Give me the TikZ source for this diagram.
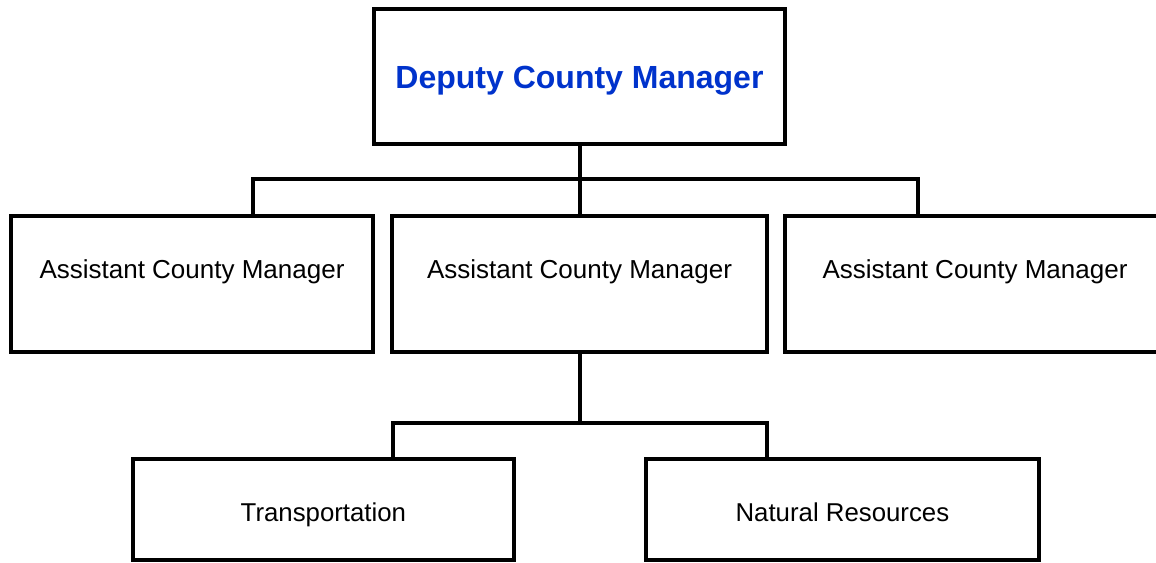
\documentclass[tikz,border=0pt]{standalone}
\usepackage{fontspec}
\setmainfont{Liberation Sans}
\definecolor{dcmblue}{RGB}{0,51,204}
\begin{document}
\begin{tikzpicture}[x=1pt,y=-1pt,
  box/.style={draw=black,line width=4pt,rectangle,inner sep=0pt,fill=white},
  wire/.style={draw=black,line width=4pt,line join=miter},
  asst/.style={box,minimum width=#1,minimum height=135.8pt,font=\fontsize{26}{30}\selectfont,text height=0pt,text depth=12pt},
  unit/.style={box,minimum width=#1,minimum height=101pt,font=\fontsize{25.8}{30}\selectfont,text height=24pt,text depth=0pt}]
\clip (0,0) rectangle (1156,562);
\fill[white] (0,0) rectangle (1156,562);
\node[box,minimum width=411pt,minimum height=135.3pt,font=\bfseries\fontsize{32}{36}\selectfont,text=dcmblue,text height=24pt,text depth=0pt] (dcm) at (579.5,76.3) {Deputy County Manager};
\node[asst=362pt] (acm1) at (192,284.2) {Assistant County Manager};
\node[asst=375pt] (acm2) at (579.5,284.2) {Assistant County Manager};
\node[asst=380pt] (acm3) at (975,284.2) {Assistant County Manager};
\node[unit=381.3pt] (tr) at (323.4,509.5) {Transportation};
\node[unit=392.7pt] (nr) at (842.4,509.5) {Natural Resources};
\coordinate (b1) at (579.5,179);
\coordinate (b1L) at (252.7,179);
\coordinate (b1R) at (917.7,179);
\coordinate (b2) at (579.5,422.7);
\coordinate (b2L) at (393,422.7);
\coordinate (b2R) at (767.3,422.7);
\draw[wire] (dcm.south) -- (b1);
\draw[wire] (b1) -- (acm2.north);
\draw[wire] (b1L |- acm1.north) -- (b1L) -- (b1R) -- (b1R |- acm3.north);
\draw[wire] (acm2.south) -- (b2);
\draw[wire] (b2L |- tr.north) -- (b2L) -- (b2R) -- (b2R |- nr.north);
\end{tikzpicture}
\end{document}
